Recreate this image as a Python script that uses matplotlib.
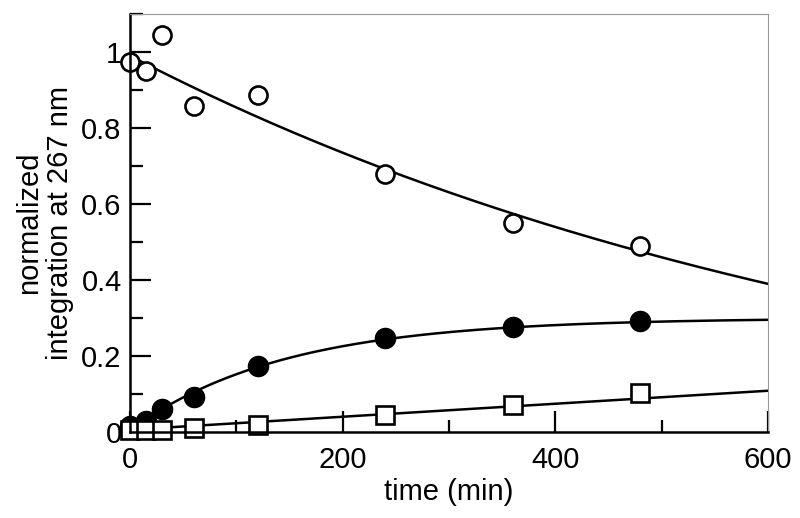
import numpy as np
import matplotlib
import matplotlib.pyplot as plt
from matplotlib.ticker import MultipleLocator, FuncFormatter
matplotlib.use('Agg')

plt.rcParams['font.family'] = ['Liberation Sans', 'DejaVu Sans']

time_min = [0, 15, 30, 60, 120, 240, 360, 480]
open_circles = [0.974, 0.951, 1.045, 0.858, 0.887, 0.679, 0.550, 0.490]
filled_circles = [0.015, 0.030, 0.060, 0.093, 0.175, 0.248, 0.277, 0.293]
open_squares = [0.006, 0.006, 0.006, 0.010, 0.018, 0.045, 0.071, 0.103]

# fit parameters
decay_amp, decay_k, decay_off = 1.09, 0.001333, -0.10
growth_0, growth_amp, growth_k = 0.005, 0.295, 0.0069
slow_0, slow_rate = 0.006, 0.000171

t = np.linspace(0, 600, 300)
fit_open = decay_amp * np.exp(-decay_k * t) + decay_off
fit_filled = growth_0 + growth_amp * (1 - np.exp(-growth_k * t))
fit_squares = slow_0 + slow_rate * t

fig = plt.figure(figsize=(8, 5.18), dpi=100)
ax = fig.add_axes([0.1625, 0.166, 0.7975, 0.807])

ax.plot(t, fit_open, color="black", lw=1.8)
ax.plot(t, fit_filled, color="black", lw=1.8)
ax.plot(t, fit_squares, color="black", lw=1.8)

ax.plot(time_min, open_circles, "o", ms=13, mfc="white", mec="black", mew=1.9, clip_on=False)
ax.plot(time_min, filled_circles, "o", ms=14.5, mfc="black", mec="black", mew=1.0, clip_on=False)
ax.plot(time_min, open_squares, "s", ms=12.5, mfc="white", mec="black", mew=1.9, clip_on=False)

ax.set_xlim(0, 600)
ax.set_ylim(0, 1.1)
ax.xaxis.set_major_locator(MultipleLocator(200))
ax.xaxis.set_minor_locator(MultipleLocator(100))
ax.yaxis.set_major_locator(MultipleLocator(0.2))
ax.yaxis.set_minor_locator(MultipleLocator(0.1))
ax.yaxis.set_major_formatter(FuncFormatter(lambda v, p: "%g" % round(v, 2)))

ax.tick_params(which="major", direction="in", length=15, width=1.6, labelsize=21)
ax.tick_params(which="minor", direction="in", length=9, width=1.6)
ax.tick_params(axis="x", which="major", pad=10)
ax.tick_params(axis="y", which="major", pad=6)
ax.tick_params(top=False, right=False, which="both")

for side in ["left", "bottom"]:
    ax.spines[side].set_linewidth(1.8)
for side in ["top", "right"]:
    ax.spines[side].set_linewidth(0.8)
    ax.spines[side].set_color("#999999")

ax.set_xlabel("time (min)", fontsize=21, labelpad=3)
ax.set_ylabel("normalized\nintegration at 267 nm", fontsize=21, labelpad=5, linespacing=1.15)

plt.savefig("out.png", dpi=100)
